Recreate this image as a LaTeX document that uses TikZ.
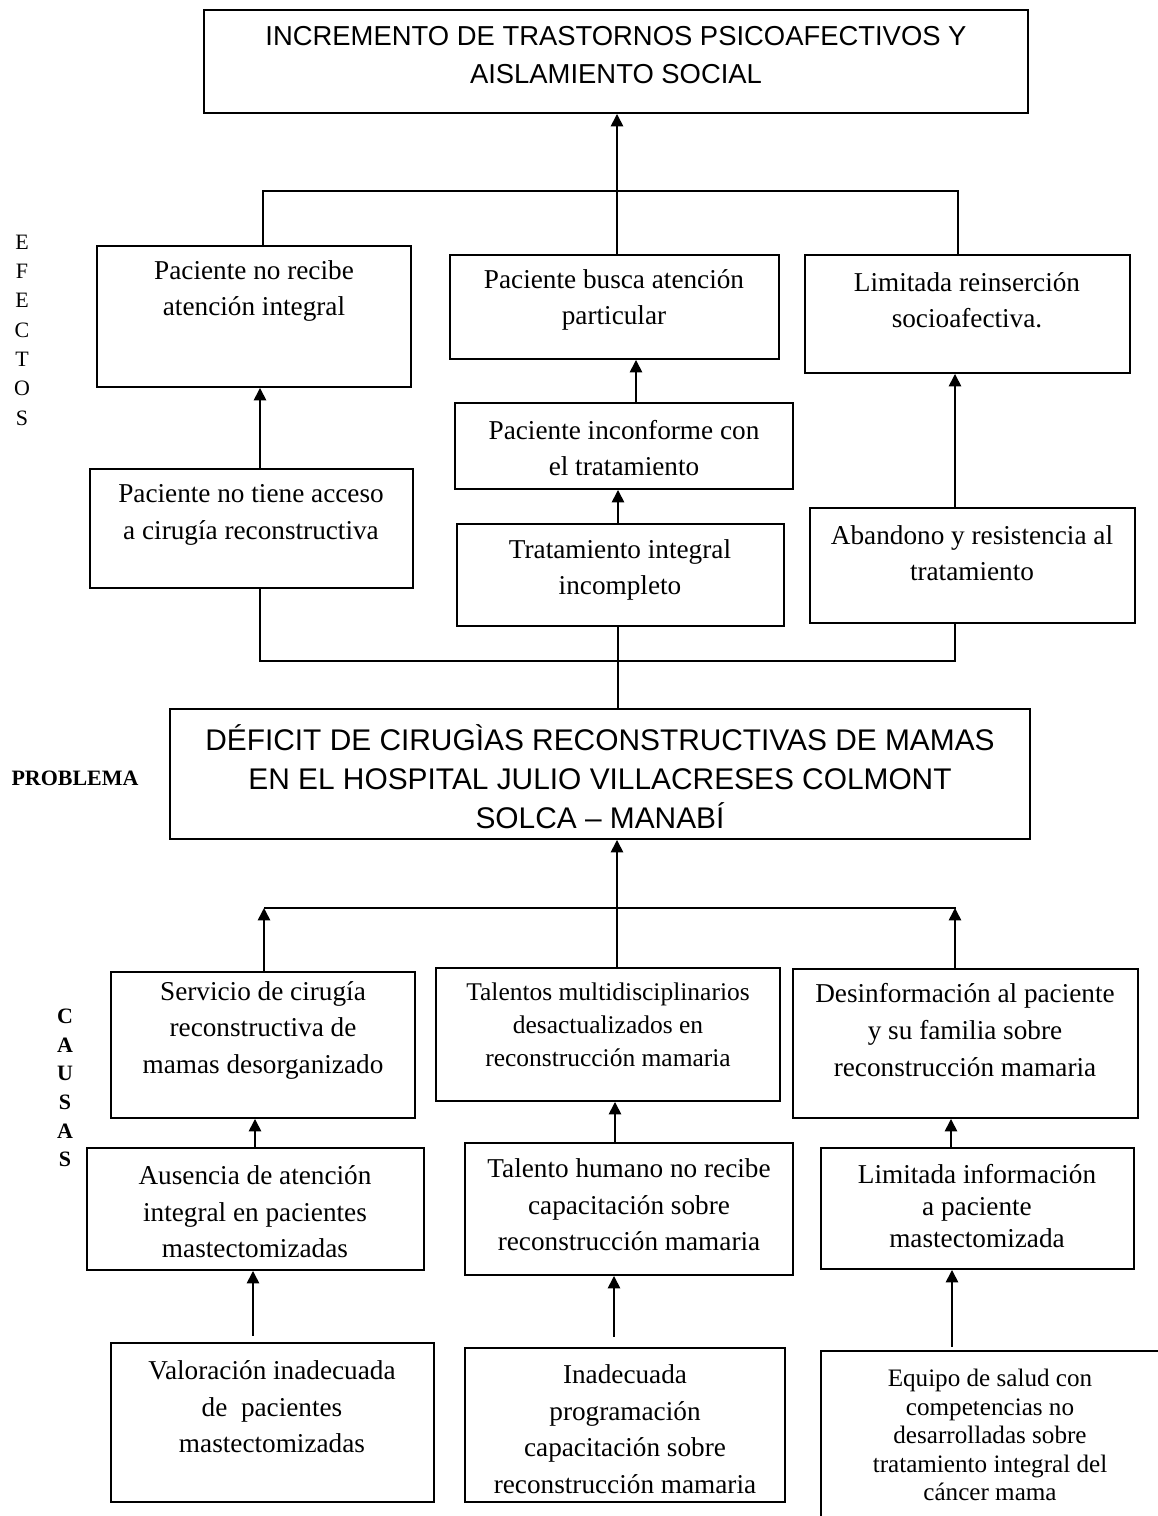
\documentclass[tikz,border=0pt]{standalone}
\usepackage{fontspec}
\setmainfont{Liberation Serif}
\newfontfamily\arialfont{Liberation Sans}
\usetikzlibrary{arrows.meta,positioning,fit,calc}

\begin{document}
\begin{tikzpicture}[x=0.02cm,y=-0.02cm,>={Triangle[length=7pt,width=7pt]},
                    line width=0.9pt]
  \tikzstyle{box}=[draw,rectangle,line width=1.1pt,inner sep=0pt]
  \tikzstyle{txt}=[align=center,font=\fontsize{15.5}{20.8}\selectfont]
  \tikzstyle{head}=[align=center,font=\arialfont\fontsize{15.6}{22}\selectfont]
  \tikzstyle{side}=[align=center,font=\fontsize{12.5}{16.7}\selectfont]

  \useasboundingbox (0,0) rectangle (1158,1516);
  \clip (0,0) rectangle (1158,1516);

  % efectos
  \node[box,fit={(204,10) (1028,113)}]   (T)  {};
  \node[head]                            (Tt) at (616,55) {INCREMENTO DE TRASTORNOS PSICOAFECTIVOS Y\\AISLAMIENTO SOCIAL};

  \node[box,fit={(97,246) (411,387)}]    (E1) {};
  \node[txt]                             (E1t) at (254,291) {Paciente no recibe\\atención integral};
  \node[box,fit={(450,255) (779,359)}]   (E2) {};
  \node[txt]                             (E2t) at (614,300) {Paciente busca atención\\particular};
  \node[box,fit={(805,255) (1130,373)}]  (E3) {};
  \node[txt]                             (E3t) at (967,300) {Limitada reinserción\\socioafectiva.};

  \node[box,fit={(455,403) (793,489)}]   (M1) {};
  \node[txt]                             (M1t) at (624,448) {Paciente inconforme con\\el tratamiento};
  \node[box,fit={(90,469) (413,588)}]    (C1) {};
  \node[txt]                             (C1t) at (251,515) {Paciente no tiene acceso\\a cirugía reconstructiva};
  \node[box,fit={(457,524) (784,626)}]   (M2) {};
  \node[txt]                             (M2t) at (620,570) {Tratamiento integral\\incompleto};
  \node[box,fit={(810,508) (1135,623)}]  (C3) {};
  \node[txt]                             (C3t) at (972,553) {Abandono y resistencia al\\tratamiento};

  \node[side]                            (EF) at (22,330) {E\\F\\E\\C\\T\\O\\S};

  \path (617,0 |- E2.north) edge[->] (617,0 |- T.south);
  \draw (263,0 |- E1.north) -- (263,191) -- (958,191) -- (958,0 |- E3.north);
  \path (260,0 |- C1.north) edge[->] (260,0 |- E1.south);
  \path (636,0 |- M1.north) edge[->] (636,0 |- E2.south);
  \path (618,0 |- M2.north) edge[->] (618,0 |- M1.south);
  \path (955,0 |- C3.north) edge[->] (955,0 |- E3.south);
  \draw (260,0 |- C1.south) -- (260,661) -- (955,661) -- (955,0 |- C3.south);

  % problema
  \node[box,fit={(170,709) (1030,839)}]  (P)  {};
  \node[head,font=\arialfont\fontsize{17}{22.3}\selectfont] (Pt) at (600,777)
        {DÉFICIT DE CIRUGÌAS RECONSTRUCTIVAS DE MAMAS\\EN EL HOSPITAL JULIO VILLACRESES COLMONT\\SOLCA – MANABÍ};
  \node[side,font=\bfseries\fontsize{12.5}{16.7}\selectfont] (PR) at (75,778) {PROBLEMA};
  \draw (618,0 |- M2.south) -- (618,0 |- P.north);

  % causas
  \node[box,fit={(111,972) (415,1118)}]  (CA1) {};
  \node[txt]                             (CA1t) at (263,1030) {Servicio de cirugía\\reconstructiva de\\mamas desorganizado};
  \node[box,fit={(436,968) (780,1101)}]  (CA2) {};
  \node[txt,font=\fontsize{14.5}{18.7}\selectfont] (CA2t) at (608,1025) {Talentos multidisciplinarios\\desactualizados en\\reconstrucción mamaria};
  \node[box,fit={(793,969) (1138,1118)}] (CA3) {};
  \node[txt]                             (CA3t) at (965,1030) {Desinformación al paciente\\y su familia sobre\\reconstrucción mamaria};

  \node[box,fit={(87,1148) (424,1270)}]  (D1) {};
  \node[txt]                             (D1t) at (255,1212) {Ausencia de atención\\integral en pacientes\\mastectomizadas};
  \node[box,fit={(465,1143) (793,1275)}] (D2) {};
  \node[txt]                             (D2t) at (629,1205) {Talento humano no recibe\\capacitación sobre\\reconstrucción mamaria};
  \node[box,fit={(821,1148) (1134,1269)}] (D3) {};
  \node[txt,font=\fontsize{15.5}{18}\selectfont] (D3t) at (977,1206) {Limitada información\\a paciente\\mastectomizada};

  \node[box,fit={(111,1343) (434,1502)}] (F1) {};
  \node[txt]                             (F1t) at (272,1407) {Valoración inadecuada\\de\ \ pacientes\\mastectomizadas};
  \node[box,fit={(465,1348) (785,1502)}] (F2) {};
  \node[txt]                             (F2t) at (625,1429) {Inadecuada\\programación\\capacitación sobre\\reconstrucción mamaria};
  \node[box,fit={(821,1351) (1180,1560)}] (F3) {};
  \node[txt,font=\fontsize{14.3}{16.2}\selectfont] (F3t) at (990,1435) {Equipo de salud con\\competencias no\\desarrolladas sobre\\tratamiento integral del\\cáncer mama};

  \node[side,font=\bfseries\fontsize{12.5}{16.3}\selectfont] (CS) at (65,1088) {C\\A\\U\\S\\A\\S};

  \coordinate (HL) at (264,908);
  \coordinate (HR) at (956,908);
  \draw (HL) -- (HR);
  \path (617,0 |- CA2.north) edge[->] (617,0 |- P.south);
  \path (264,0 |- CA1.north) edge[->] (HL);
  \path (955,0 |- CA3.north) edge[->] (955,0 |- HR);
  \path (255,0 |- D1.north) edge[->] (255,0 |- CA1.south);
  \path (615,0 |- D2.north) edge[->] (615,0 |- CA2.south);
  \path (951,0 |- D3.north) edge[->] (951,0 |- CA3.south);
  \path (253,0 |- F1.north) edge[->,shorten <=3.5pt] (253,0 |- D1.south);
  \path (614,0 |- F2.north) edge[->,shorten <=6pt] (614,0 |- D2.south);
  \path (952,0 |- F3.north) edge[->,shorten <=2pt] (952,0 |- D3.south);
\end{tikzpicture}
\end{document}
